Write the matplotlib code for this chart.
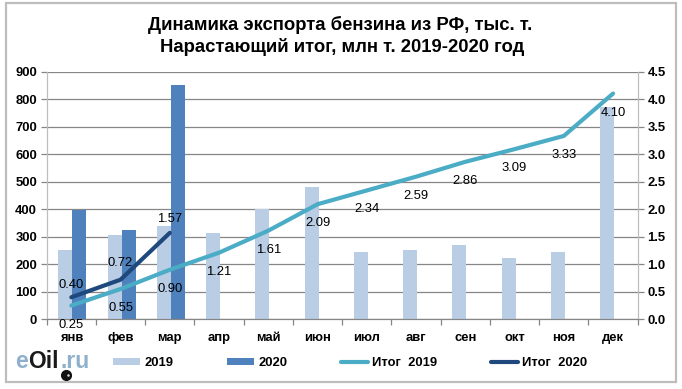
import numpy as np
import matplotlib
matplotlib.use('Agg')
from matplotlib import pyplot as plt
from matplotlib.patches import Rectangle

plt.rcParams['font.family'] = ['Liberation Sans', 'DejaVu Sans']

months = ['янв', 'фев', 'мар', 'апр', 'май', 'июн', 'июл', 'авг', 'сен', 'окт', 'ноя', 'дек']
export_2019 = [250, 305, 340, 315, 400, 480, 245, 252, 270, 222, 245, 770]
export_2020 = [398, 325, 850]
total_2019 = [0.25, 0.55, 0.90, 1.21, 1.61, 2.09, 2.34, 2.59, 2.86, 3.09, 3.33, 4.10]
total_2020 = [0.40, 0.72, 1.57]

W, H = 682, 389
L, R, T, B = 46.7, 637.7, 71.5, 319.3

fig = plt.figure(figsize=(W/100, H/100), dpi=100, facecolor='white')
ax = fig.add_axes([L/W, 1 - B/H, (R - L)/W, (B - T)/H])
ax2 = ax.twinx()

# outer chart frame
fig.add_artist(Rectangle((5.5/W, 1 - 381.5/H), 670.5/W, 378.5/H, transform=fig.transFigure,
                         fill=False, edgecolor='#BDBDBD', linewidth=1.6))

x = np.arange(len(months))
x_2020 = np.arange(len(export_2020))
bar_width = 0.285
bar_shift = 0.02

ax.bar(x - bar_width/2 + bar_shift, export_2019, bar_width, color='#B9CDE5', label='2019', zorder=2)
ax.bar(x_2020 + bar_width/2 + bar_shift, export_2020, bar_width, color='#4F81BD', label='2020', zorder=2)

line_19, = ax2.plot(x, total_2019, color='#4BACC6', linewidth=3.0, solid_capstyle='round',
                    label='Итог  2019', zorder=3)
line_20, = ax2.plot(x_2020, total_2020, color='#1F497D', linewidth=3.0, solid_capstyle='round',
                    label='Итог  2020', zorder=3)

for i, v in zip(x, total_2019):
    ax2.annotate(f'{v:.2f}', (i, v), xytext=(0, -19), textcoords='offset pixels',
                 ha='center', va='center', fontsize=9.4, color='black', zorder=5)
for i, v, off in zip(x_2020, total_2020, [12, 17, 14]):
    ax2.annotate(f'{v:.2f}', (i, v), xytext=(0, off), textcoords='offset pixels',
                 ha='center', va='center', fontsize=9.4, color='black', zorder=5)

ax.set_xlim(-0.5, 11.5)
ax.set_ylim(0, 900)
ax.set_yticks(np.arange(0, 901, 100))
ax2.set_ylim(0, 4.5)
ax2.set_yticks(np.arange(0, 4.6, 0.5))
ax2.set_yticklabels([f'{v:.1f}' for v in np.arange(0, 4.6, 0.5)])

ax.set_xticks(np.arange(-0.5, 12, 1))
ax.set_xticklabels([])
ax.set_xticks(x, minor=True)
ax.set_xticklabels(months, minor=True, fontsize=9.4, fontweight='bold')
ax.tick_params(axis='x', which='major', length=4, width=0.9, color='#868686')
ax.tick_params(axis='x', which='minor', length=0, pad=9)
ax.tick_params(axis='y', length=4, width=0.9, color='#868686', labelsize=9.4, pad=3)
ax2.tick_params(axis='y', length=4, width=0.9, color='#868686', labelsize=9.4, pad=3)
for t in ax.get_yticklabels() + ax2.get_yticklabels():
    t.set_fontweight('bold')

ax.grid(axis='y', color='#868686', linewidth=0.9, zorder=1)
ax.set_axisbelow(True)
for a in (ax, ax2):
    a.spines['top'].set_visible(False)
    a.spines['bottom'].set_color('#868686')
    a.spines['left'].set_color('#BDBDBD')
    a.spines['right'].set_color('#BDBDBD')

fig.text(340/W, 1 - 24.5/H, 'Динамика экспорта бензина из РФ, тыс. т.', ha='center', va='center',
         fontsize=13.3, fontweight='bold')
fig.text(342/W, 1 - 46.5/H, 'Нарастающий итог, млн т. 2019-2020 год', ha='center', va='center',
         fontsize=13.3, fontweight='bold')

handles = ax.get_legend_handles_labels()[0] + [line_19, line_20]
labels = ['2019', '2020', 'Итог  2019', 'Итог  2020']
leg = fig.legend(handles, labels, ncol=4, loc='center', bbox_to_anchor=(350/W, 1 - 363/H), frameon=False,
                 prop={'size': 9.4, 'weight': 'bold'}, handlelength=2.1, handleheight=0.5,
                 handletextpad=0.3, columnspacing=4.1, borderpad=0, borderaxespad=0)

# eOil.ru logo
fig.text(15/W, 1 - 361/H, 'e', fontsize=16.5, fontweight='bold', color='#8FB0CC', ha='left', va='center')
fig.text(28/W, 1 - 361/H, 'Oil', fontsize=16.5, fontweight='bold', color='#1A1A1A', ha='left', va='center')
fig.text(61/W, 1 - 361/H, '.ru', fontsize=16.5, fontweight='bold', color='#8FB0CC', ha='left', va='center')
fig.add_artist(plt.Line2D([66/W], [1 - 375/H], marker='o', markersize=7, color='#111111',
                          transform=fig.transFigure))
fig.add_artist(plt.Line2D([67.5/W], [1 - 375/H], marker='o', markersize=1.8, color='#DDDDDD',
                          markeredgewidth=0, transform=fig.transFigure))

fig.savefig('out.png', dpi=100, facecolor='white')
